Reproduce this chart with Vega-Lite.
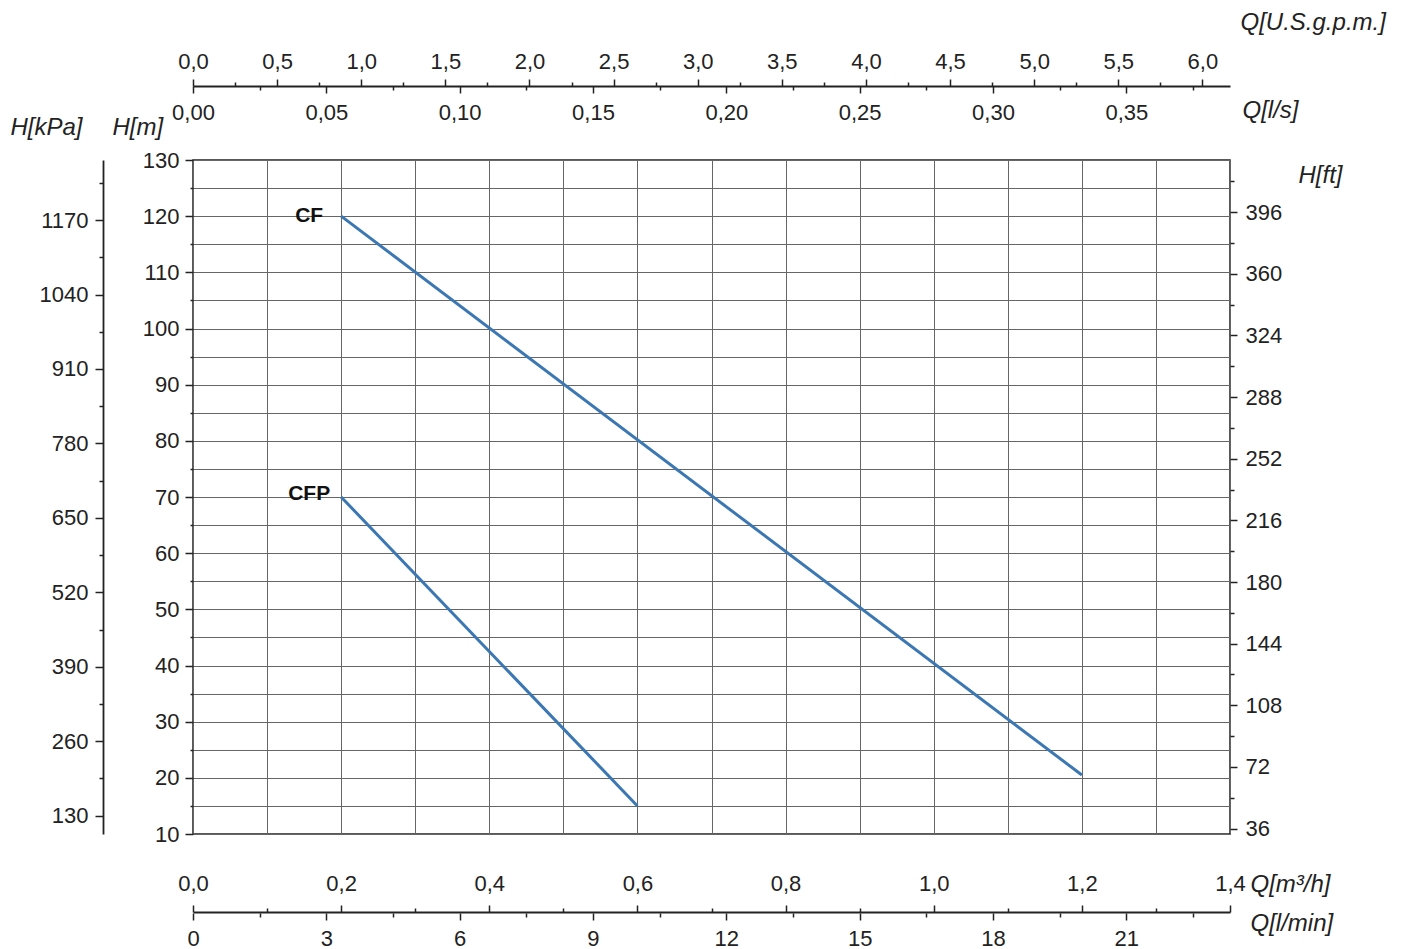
{
  "$schema": "https://vega.github.io/schema/vega-lite/v6.json",
  "width": 1037,
  "height": 674,
  "autosize": {"type": "none"},
  "padding": {"left": 193, "top": 160, "right": 174, "bottom": 115},
  "background": "white",
  "config": {
    "font": "Liberation Sans",
    "view": {"stroke": "#222", "strokeWidth": 1.5},
    "axis": {
      "labelFont": "Liberation Sans", "labelFontSize": 22, "labelColor": "#222",
      "titleFont": "Liberation Sans", "titleFontSize": 24, "titleFontStyle": "italic", "titleFontWeight": "normal", "titleColor": "#222",
      "tickColor": "#222", "tickWidth": 1.5, "domainColor": "#222", "domainWidth": 1.8,
      "labelFlush": false, "labelOverlap": false, "grid": false,
      "titleAngle": 0, "titleAlign": "left", "titleBaseline": "middle"
    }
  },
  "datasets": {
    "curves": [
      {"series": "CF", "Q_m3h": 0.2, "Q_lmin": 3.33, "Q_ls": 0.0556, "Q_gpm": 0.881, "H_m": 120, "H_kPa": 1176.8, "H_ft": 393.7},
      {"series": "CF", "Q_m3h": 1.2, "Q_lmin": 20.0, "Q_ls": 0.3333, "Q_gpm": 5.283, "H_m": 20.5, "H_kPa": 201.0, "H_ft": 67.3},
      {"series": "CFP", "Q_m3h": 0.2, "Q_lmin": 3.33, "Q_ls": 0.0556, "Q_gpm": 0.881, "H_m": 70, "H_kPa": 686.5, "H_ft": 229.7},
      {"series": "CFP", "Q_m3h": 0.6, "Q_lmin": 10.0, "Q_ls": 0.1667, "Q_gpm": 2.642, "H_m": 15, "H_kPa": 147.1, "H_ft": 49.2}
    ],
    "labels": [
      {"series": "CF", "Q_m3h": 0.2, "H_m": 120},
      {"series": "CFP", "Q_m3h": 0.2, "H_m": 70}
    ]
  },
  "resolve": {
    "scale": {"x": "independent", "y": "independent"},
    "axis": {"x": "independent", "y": "independent"}
  },
  "layer": [
    {
      "data": {"name": "curves"},
      "mark": {"type": "point", "opacity": 0},
      "encoding": {
        "x": {"field": "Q_m3h", "type": "quantitative", "scale": {"domain": [0, 1.4], "nice": false, "zero": false},
          "axis": {"orient": "bottom", "values": [0, 0.1, 0.2, 0.3, 0.4, 0.5, 0.6, 0.7, 0.8, 0.9, 1.0, 1.1, 1.2, 1.3, 1.4], "grid": true, "gridColor": "#666", "gridWidth": 1, "labels": false, "ticks": false, "domain": false, "title": null}},
        "y": {"field": "H_m", "type": "quantitative", "scale": {"domain": [10, 130], "nice": false, "zero": false},
          "axis": {"orient": "left", "values": [10, 15, 20, 25, 30, 35, 40, 45, 50, 55, 60, 65, 70, 75, 80, 85, 90, 95, 100, 105, 110, 115, 120, 125, 130], "grid": true, "gridColor": "#666", "gridWidth": 1, "labels": false, "ticks": false, "domain": false, "title": null}}
      }
    },
    {
      "data": {"name": "curves"},
      "mark": {"type": "line", "stroke": "#3b77b2", "strokeWidth": 3},
      "encoding": {
        "detail": {"field": "series"},
        "x": {"field": "Q_m3h", "type": "quantitative", "scale": {"domain": [0, 1.4], "nice": false, "zero": false},
          "axis": {"orient": "top", "offset": -752, "values": [0, 0.1, 0.2, 0.3, 0.4, 0.5, 0.6, 0.7, 0.8, 0.9, 1.0, 1.1, 1.2, 1.3, 1.4],
            "labelExpr": "abs(round(datum.value*5)-datum.value*5) < 1e-6 ? replace(format(datum.value, '.1f'), '.', ',') : ''",
            "tickSize": {"condition": {"test": "abs(round(datum.value*5)-datum.value*5) < 1e-6", "value": 7}, "value": 4},
            "labelPadding": 10, "domain": true,
            "title": "Q[m³/h]", "titleX": 1057, "titleY": -28}},
        "y": {"field": "H_m", "type": "quantitative", "scale": {"domain": [10, 130], "nice": false, "zero": false},
          "axis": {"orient": "left", "values": [10, 15, 20, 25, 30, 35, 40, 45, 50, 55, 60, 65, 70, 75, 80, 85, 90, 95, 100, 105, 110, 115, 120, 125, 130],
            "labelExpr": "datum.value % 10 == 0 ? format(datum.value, 'd') : ''",
            "tickSize": {"condition": {"test": "datum.value % 10 == 0", "value": 8}, "value": 3},
            "labelPadding": 6, "domain": false,
            "title": "H[m]", "titleX": -81, "titleY": -33}}
      }
    },
    {
      "data": {"name": "curves"},
      "mark": {"type": "point", "opacity": 0},
      "encoding": {
        "x": {"field": "Q_lmin", "type": "quantitative", "scale": {"domain": [0, 23.3333], "nice": false, "zero": false},
          "axis": {"orient": "bottom", "offset": 79, "values": [0, 1.5, 3, 4.5, 6, 7.5, 9, 10.5, 12, 13.5, 15, 16.5, 18, 19.5, 21, 22.5],
            "labelExpr": "datum.value % 3 == 0 ? format(datum.value, 'd') : ''",
            "tickSize": {"condition": {"test": "datum.value % 3 == 0", "value": 7}, "value": 4},
            "labelPadding": 8, "domain": false,
            "title": "Q[l/min]", "titleX": 1057, "titleY": 10}},
        "y": {"field": "H_m", "type": "quantitative", "scale": {"domain": [10, 130], "nice": false, "zero": false}, "axis": null}
      }
    },
    {
      "data": {"name": "curves"},
      "mark": {"type": "point", "opacity": 0},
      "encoding": {
        "x": {"field": "Q_gpm", "type": "quantitative", "scale": {"domain": [0, 6.164], "nice": false, "zero": false},
          "axis": {"orient": "top", "offset": 74, "values": [0, 0.25, 0.5, 0.75, 1, 1.25, 1.5, 1.75, 2, 2.25, 2.5, 2.75, 3, 3.25, 3.5, 3.75, 4, 4.25, 4.5, 4.75, 5, 5.25, 5.5, 5.75, 6],
            "labelExpr": "abs(round(datum.value*2)-datum.value*2) < 1e-6 ? replace(format(datum.value, '.1f'), '.', ',') : ''",
            "tickSize": {"condition": {"test": "abs(round(datum.value*2)-datum.value*2) < 1e-6", "value": 7}, "value": 4},
            "labelPadding": 6, "domain": true,
            "title": "Q[U.S.g.p.m.]", "titleX": 1047, "titleY": -64}},
        "y": {"field": "H_m", "type": "quantitative", "scale": {"domain": [10, 130], "nice": false, "zero": false}, "axis": null}
      }
    },
    {
      "data": {"name": "curves"},
      "mark": {"type": "point", "opacity": 0},
      "encoding": {
        "x": {"field": "Q_ls", "type": "quantitative", "scale": {"domain": [0, 0.388889], "nice": false, "zero": false},
          "axis": {"orient": "bottom", "offset": -748, "values": [0, 0.025, 0.05, 0.075, 0.1, 0.125, 0.15, 0.175, 0.2, 0.225, 0.25, 0.275, 0.3, 0.325, 0.35, 0.375],
            "labelExpr": "abs(round(datum.value*20)-datum.value*20) < 1e-6 ? replace(format(datum.value, '.2f'), '.', ',') : ''",
            "tickSize": {"condition": {"test": "abs(round(datum.value*20)-datum.value*20) < 1e-6", "value": 7}, "value": 4},
            "labelPadding": 9, "domain": false,
            "title": "Q[l/s]", "titleX": 1049, "titleY": 24}},
        "y": {"field": "H_m", "type": "quantitative", "scale": {"domain": [10, 130], "nice": false, "zero": false}, "axis": null}
      }
    },
    {
      "data": {"name": "curves"},
      "mark": {"type": "point", "opacity": 0},
      "encoding": {
        "x": {"field": "Q_m3h", "type": "quantitative", "scale": {"domain": [0, 1.4], "nice": false, "zero": false}, "axis": null},
        "y": {"field": "H_kPa", "type": "quantitative", "scale": {"domain": [98.0665, 1274.86], "nice": false, "zero": false},
          "axis": {"orient": "left", "offset": 90, "values": [130, 195, 260, 325, 390, 455, 520, 585, 650, 715, 780, 845, 910, 975, 1040, 1105, 1170, 1235],
            "labelExpr": "datum.value % 130 == 0 ? format(datum.value, 'd') : ''",
            "tickSize": {"condition": {"test": "datum.value % 130 == 0", "value": 8}, "value": 4},
            "labelPadding": 7, "domain": true,
            "title": "H[kPa]", "titleX": -93, "titleY": -33}}
      }
    },
    {
      "data": {"name": "curves"},
      "mark": {"type": "point", "opacity": 0},
      "encoding": {
        "x": {"field": "Q_m3h", "type": "quantitative", "scale": {"domain": [0, 1.4], "nice": false, "zero": false}, "axis": null},
        "y": {"field": "H_ft", "type": "quantitative", "scale": {"domain": [32.8084, 426.509], "nice": false, "zero": false},
          "axis": {"orient": "right", "values": [36, 54, 72, 90, 108, 126, 144, 162, 180, 198, 216, 234, 252, 270, 288, 306, 324, 342, 360, 378, 396, 414],
            "labelExpr": "datum.value % 36 == 0 ? format(datum.value, 'd') : ''",
            "tickSize": {"condition": {"test": "datum.value % 36 == 0", "value": 7}, "value": 4},
            "labelPadding": 8, "domain": false,
            "title": "H[ft]", "titleX": 68, "titleY": 15}}
      }
    },
    {
      "data": {"name": "labels"},
      "transform": [{"filter": "datum.series == 'CF'"}],
      "mark": {"type": "text", "align": "right", "baseline": "middle", "dx": -18, "fontSize": 21, "fontWeight": "bold", "font": "Liberation Sans", "color": "#111"},
      "encoding": {
        "text": {"field": "series"},
        "x": {"field": "Q_m3h", "type": "quantitative", "scale": {"domain": [0, 1.4], "nice": false, "zero": false}, "axis": null},
        "y": {"field": "H_m", "type": "quantitative", "scale": {"domain": [10, 130], "nice": false, "zero": false}, "axis": null}
      }
    },
    {
      "data": {"name": "labels"},
      "transform": [{"filter": "datum.series == 'CFP'"}],
      "mark": {"type": "text", "align": "right", "baseline": "middle", "dx": -11, "dy": -3, "fontSize": 21, "fontWeight": "bold", "font": "Liberation Sans", "color": "#111"},
      "encoding": {
        "text": {"field": "series"},
        "x": {"field": "Q_m3h", "type": "quantitative", "scale": {"domain": [0, 1.4], "nice": false, "zero": false}, "axis": null},
        "y": {"field": "H_m", "type": "quantitative", "scale": {"domain": [10, 130], "nice": false, "zero": false}, "axis": null}
      }
    }
  ]
}
